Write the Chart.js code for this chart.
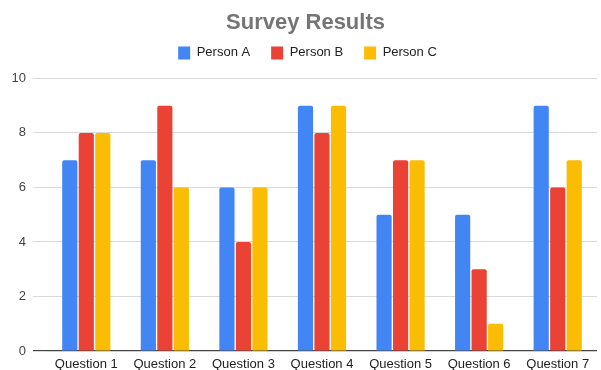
<!DOCTYPE html>
<html>
<head>
<meta charset="utf-8">
<script src="https://cdn.jsdelivr.net/npm/chart.js@4"></script>
<style>
  html, body { margin: 0; padding: 0; background: #fff; }
  #wrap { width: 601px; height: 370px; }
</style>
</head>
<body>
<div id="wrap"><canvas id="surveyChart"></canvas></div>
<script>
// Survey data
const questions = ['Question 1', 'Question 2', 'Question 3', 'Question 4', 'Question 5', 'Question 6', 'Question 7'];
const personA = [7, 7, 6, 9, 5, 5, 9];
const personB = [8, 9, 4, 8, 7, 3, 6];
const personC = [8, 6, 6, 9, 7, 1, 7];
const yTicks = [0, 2, 4, 6, 8, 10];

const FONT = '"Liberation Sans", Arial, sans-serif';
const ctx = document.getElementById('surveyChart').getContext('2d');

function barSet(label, data, color) {
    return {
        label: label,
        data: data,
        backgroundColor: color,
        borderWidth: 0,
        borderRadius: { topLeft: 2, topRight: 2 },
        borderSkipped: 'bottom',
        categoryPercentage: 0.63,
        barPercentage: 0.92
    };
}

// fixed legend height, and title + legend sit a little right of center
const headerTweak = {
    id: 'headerTweak',
    beforeInit(chart) {
        const fit = chart.legend.fit;
        chart.legend.fit = function() {
            fit.bind(chart.legend)();
            this.height = 53;
        };
    },
    afterLayout(chart) {
        chart.titleBlock.left += 7;
        chart.titleBlock.right += 7;
        chart.legend.left += 9;
        chart.legend.right += 9;
    }
};

new Chart(ctx, {
    type: 'bar',
    data: {
        labels: questions,
        datasets: [
            barSet('Person A', personA, '#4285f4'),
            barSet('Person B', personB, '#ea4335'),
            barSet('Person C', personC, '#fbbc04')
        ]
    },
    plugins: [headerTweak],
    options: {
        responsive: true,
        maintainAspectRatio: false,
        animation: false,
        layout: {
            padding: { left: 0, right: 4, top: 6, bottom: 0 }
        },
        plugins: {
            title: {
                display: true,
                text: 'Survey Results',
                color: '#757575',
                font: { family: FONT, size: 22, weight: 'bold' },
                padding: { top: 4, bottom: -11 }
            },
            legend: {
                position: 'top',
                labels: {
                    color: '#222',
                    boxWidth: 12,
                    boxHeight: 13,
                    padding: 21,
                    font: { family: FONT, size: 13 }
                }
            },
            tooltip: { enabled: false }
        },
        scales: {
            x: {
                afterFit: function(scale) { scale.height = 19; },
                grid: { display: false, drawTicks: false },
                border: { display: false },
                ticks: {
                    color: '#222',
                    padding: 6,
                    font: { family: FONT, size: 13 }
                }
            },
            y: {
                min: 0,
                max: 10,
                afterFit: function(scale) { scale.width = 47; },
                afterBuildTicks: function(scale) {
                    scale.ticks = yTicks.map(v => ({ value: v }));
                },
                border: { display: false },
                grid: {
                    color: c => c.tick && c.tick.value === 0 ? '#444' : '#d9d9d9',
                    tickColor: c => c.tick && c.tick.value === 0 ? '#444' : '#d9d9d9',
                    lineWidth: c => c.tick && c.tick.value === 0 ? 1.2 : 1,
                    drawTicks: true,
                    tickLength: 14
                },
                ticks: {
                    color: '#444',
                    padding: 7,
                    font: { family: FONT, size: 13 }
                }
            }
        }
    }
});
</script>
</body>
</html>
